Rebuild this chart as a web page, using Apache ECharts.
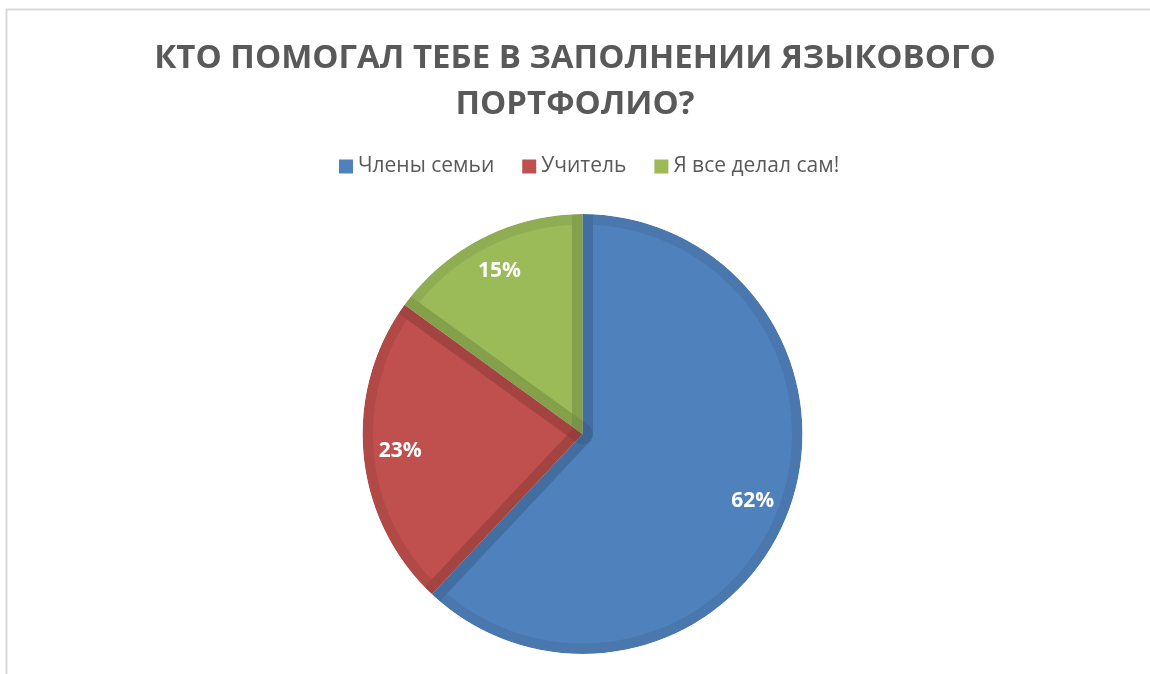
<!DOCTYPE html>
<html>
<head>
<meta charset="utf-8">
<script src="https://cdn.jsdelivr.net/npm/echarts@6/dist/echarts.min.js"></script>
<style>
html,body{margin:0;padding:0;background:#fff;}
#chart{width:1150px;height:674px;}
</style>
</head>
<body>
<div id="chart"></div>
<script>
const titleText = 'КТО ПОМОГАЛ ТЕБЕ В ЗАПОЛНЕНИИ ЯЗЫКОВОГО\nПОРТФОЛИО?';
const categories = ['Члены семьи', 'Учитель', 'Я все делал сам!'];
const values = [62, 23, 15];

const fillColors = ['#4F81BD', '#C0504D', '#9BBB59'];
const FONT = '"Open Sans", "Noto Sans", sans-serif';

const chart = echarts.init(document.getElementById('chart'), null, {renderer: 'canvas'});

const baseData = categories.map((c, i) => ({name: c, value: values[i], itemStyle: {color: fillColors[i]}}));
const strokeData = categories.map((c, i) => ({name: c, value: values[i]}));
const labelData = categories.map((c, i) => ({name: c, value: values[i]}));
const maskData = [{name: 'mask', value: 1}];

const center = [582.5, 434];

chart.setOption({
  animation: false,
  backgroundColor: '#ffffff',
  graphic: [{
    type: 'rect',
    shape: {x: 6.5, y: 9.5, width: 1300, height: 800},
    style: {fill: 'none', stroke: '#d9d9d9', lineWidth: 2},
    silent: true,
    z: -10
  }],
  title: {
    text: titleText,
    left: 'center',
    top: 31,
    textStyle: {
      fontFamily: FONT,
      fontWeight: 'bold',
      fontSize: 33,
      lineHeight: 46,
      color: '#595959'
    }
  },
  legend: {
    top: 151,
    left: 334,
    icon: 'rect',
    itemWidth: 14,
    itemHeight: 14,
    itemGap: 28,
    data: categories.map((c, i) => ({name: c, itemStyle: {color: fillColors[i]}})),
    textStyle: {fontFamily: FONT, fontSize: 21, color: '#595959'},
    selectedMode: false
  },
  series: [
    {
      type: 'pie',
      center: center,
      radius: 220,
      startAngle: 90,
      clockwise: true,
      silent: true,
      label: {show: false},
      labelLine: {show: false},
      data: baseData,
      z: 1
    },
    {
      type: 'pie',
      center: center,
      radius: 220,
      startAngle: 90,
      clockwise: true,
      silent: true,
      label: {show: false},
      labelLine: {show: false},
      itemStyle: {color: 'rgba(0,0,0,0)', borderColor: 'rgba(0,0,0,0.075)', borderWidth: 21, borderJoin: 'round'},
      data: strokeData,
      z: 2
    },
    {
      type: 'pie',
      center: center,
      radius: [220, 236],
      startAngle: 90,
      silent: true,
      label: {show: false},
      labelLine: {show: false},
      itemStyle: {color: '#ffffff'},
      data: maskData,
      z: 3
    },
    {
      type: 'pie',
      center: center,
      radius: [140, 220],
      startAngle: 90,
      clockwise: true,
      silent: true,
      itemStyle: {color: 'rgba(0,0,0,0)'},
      label: {
        show: true,
        position: 'inside',
        formatter: '{d}%',
        fontFamily: FONT,
        fontWeight: 'bold',
        fontSize: 21,
        color: '#ffffff'
      },
      labelLine: {show: false},
      data: labelData,
      z: 4
    }
  ]
});
</script>
</body>
</html>
